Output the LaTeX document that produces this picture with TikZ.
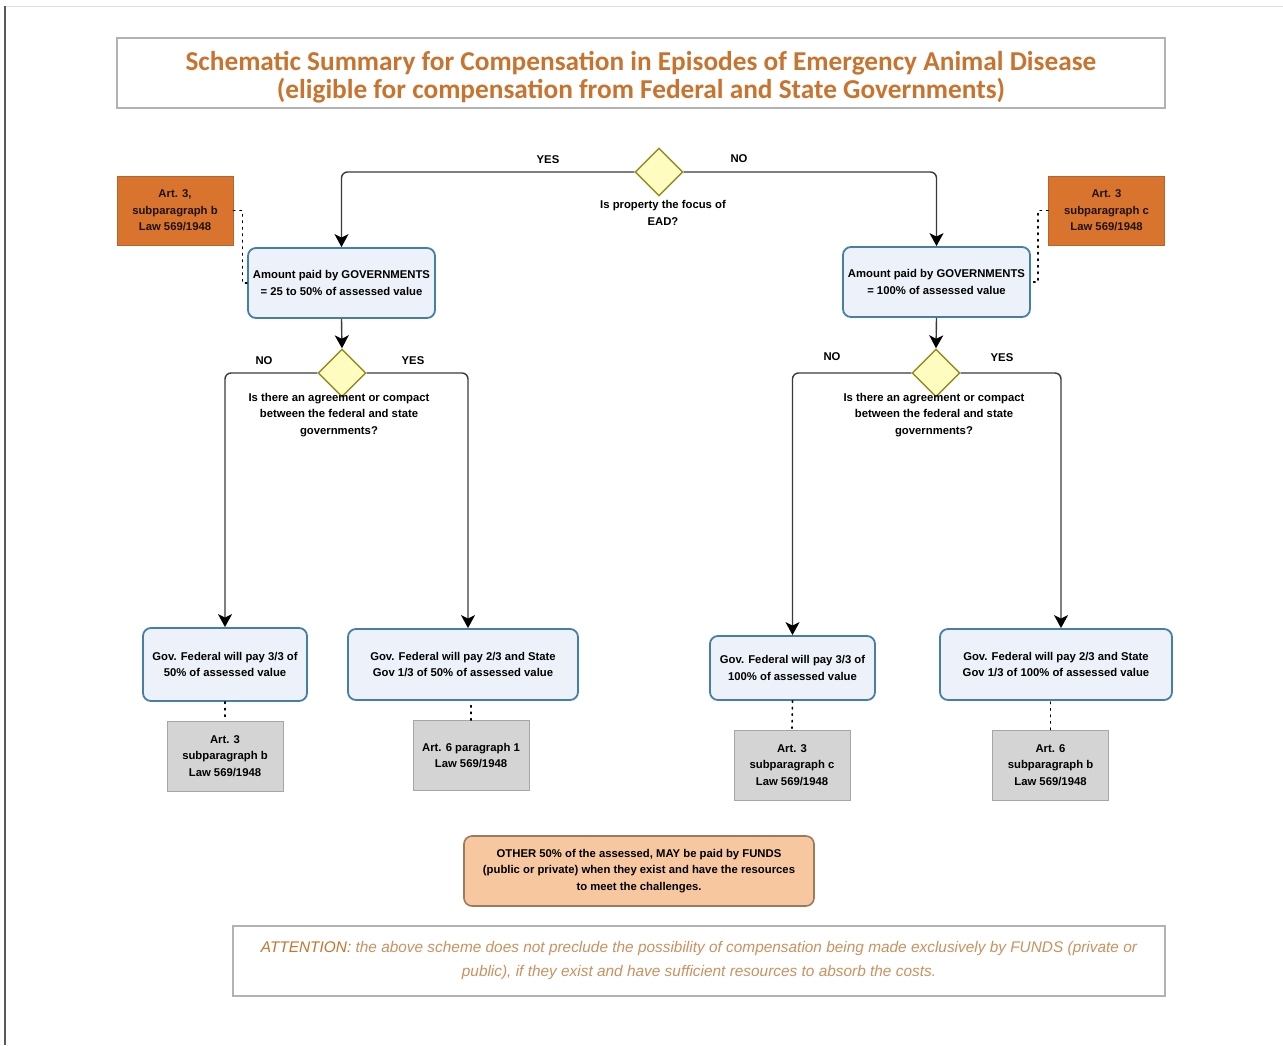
\documentclass[tikz,border=0pt]{standalone}
\usepackage{fontspec}
\setmainfont{Liberation Sans}
\newfontfamily\titlefont{Carlito}
\usepackage{xcolor}
\usetikzlibrary{arrows.meta,shapes.geometric}
\definecolor{titleorange}{HTML}{C8742F}
\definecolor{noteorange}{HTML}{C9925E}
\definecolor{boxblue}{HTML}{457FA8}
\definecolor{boxfill}{HTML}{EDF2FA}
\definecolor{laworange}{HTML}{D9742F}
\definecolor{lawgray}{HTML}{D4D4D4}
\definecolor{fundsfill}{HTML}{F7C8A0}
\definecolor{fundsline}{HTML}{9C7A5C}
\definecolor{linegray}{HTML}{3A3A3A}
\tikzset{
  flow/.style={draw=linegray, line width=1.4pt, rounded corners=6pt, -{Stealth[length=13pt,width=14pt,inset=3.5pt,color=black]}},
  ref/.style={draw=black, line width=1.6pt, dash pattern=on 1.5pt off 5pt, line cap=round}
}
\begin{document}
\begin{tikzpicture}[x=1pt, y=-1pt, thick,
    txt/.style = {align=center, font=\bfseries\fontsize{11.3}{16.5}\selectfont, inner sep=0pt},
    main/.style = {txt, draw=boxblue, fill=boxfill, rounded corners=8pt, line width=1.8pt},
    decision/.style = {diamond, aspect=1, draw=olive!70!yellow!80!black, fill=yellow!25, line width=1.4pt, minimum width=48pt, minimum height=48pt, inner sep=0pt},
    law/.style = {txt, fill=laworange, draw=laworange!85!black, text=black!85!brown, minimum width=116pt, minimum height=69pt},
    lawbox/.style = {txt, fill=lawgray, draw=gray!70, minimum width=116pt, minimum height=70pt},
    frame/.style = {draw=gray!60, line width=1.2pt, fill=white, inner sep=0pt}]
      \useasboundingbox (0,0) rectangle (1283,1045);
      \draw[gray!25, line width=1pt] (5,6) -- (1283,6);
      \draw[gray!70!black, line width=1.6pt] (5,6) -- (5,1045);

      % title
      \node[frame, minimum width=1048pt, minimum height=70pt] (1) at (641,73) {};
      \node[align=center, text=titleorange, inner sep=0pt,
        font=\titlefont\bfseries\fontsize{27.3}{28}\selectfont] (1t) at (641,77)
        {Schematic Summary for Compensation in Episodes of Emergency Animal Disease\\
         (eligible for compensation from Federal and State Governments)};

      % first question
      \node[decision] (2) at (659,172) {};
      \node[txt] (2q) at (663,213) {Is property the focus of\\EAD?};
      \node[txt] (2y) at (548,160) {YES};
      \node[txt] (2n) at (739,159) {NO};

      \node[law] (3) at (175,210.5) {Art. 3,\\subparagraph b\\Law 569/1948};
      \node[law] (4) at (1106.5,210.5) {Art. 3\\subparagraph c\\Law 569/1948};

      \node[main, minimum width=187pt, minimum height=70pt] (5) at (341.5,283)
        {Amount paid by GOVERNMENTS\\= 25 to 50\% of assessed value};
      \node[main, minimum width=187pt, minimum height=70pt] (6) at (936.5,282)
        {Amount paid by GOVERNMENTS\\= 100\% of assessed value};

      % second questions
      \node[decision] (7) at (342,373) {};
      \node[txt] (7q) at (339,415) {Is there an agreement or compact\\between the federal and state\\governments?};
      \node[txt] (7n) at (264,361) {NO};
      \node[txt] (7y) at (413,361) {YES};

      \node[decision] (8) at (936,373) {};
      \node[txt] (8q) at (934,415) {Is there an agreement or compact\\between the federal and state\\governments?};
      \node[txt] (8n) at (832,357) {NO};
      \node[txt] (8y) at (1002,358) {YES};

      % results
      \node[main, minimum width=164pt, minimum height=73pt] (9) at (225,664.5)
        {Gov. Federal will pay 3/3 of\\50\% of assessed value};
      \node[main, minimum width=230pt, minimum height=71pt] (10) at (463,664.5)
        {Gov. Federal will pay 2/3 and State\\Gov 1/3 of 50\% of assessed value};
      \node[main, minimum width=165pt, minimum height=64pt] (11) at (792.5,668)
        {Gov. Federal will pay 3/3 of\\100\% of assessed value};
      \node[main, minimum width=232pt, minimum height=71pt] (12) at (1056,664.5)
        {Gov. Federal will pay 2/3 and State\\Gov 1/3 of 100\% of assessed value};

      \node[lawbox] (13) at (225,756) {Art. 3\\subparagraph b\\Law 569/1948};
      \node[lawbox] (14) at (471,755.5) {Art. 6 paragraph 1\\Law 569/1948};
      \node[lawbox] (15) at (792,765) {Art. 3\\subparagraph c\\Law 569/1948};
      \node[lawbox] (16) at (1050.5,765) {Art. 6\\subparagraph b\\Law 569/1948};

      \node[txt, fill=fundsfill, draw=fundsline, line width=1.6pt, rounded corners=8pt,
        minimum width=350pt, minimum height=70pt] (17) at (639,871)
        {OTHER 50\% of the assessed, MAY be paid by FUNDS\\
         (public or private) when they exist and have the resources\\
         to meet the challenges.};

      \node[frame, minimum width=932pt, minimum height=70pt, align=center, text=noteorange,
        font=\itshape\fontsize{15.4}{24}\selectfont] (18) at (699,961)
        {\textcolor{titleorange}{ATTENTION:} the above scheme does not preclude the possibility of compensation being made exclusively by FUNDS (private or\\
         public), if they exist and have sufficient resources to absorb the costs.};

      \draw[flow] (2.west) -| (5.north);
      \draw[flow] (2.east) -| (6.north);
      \draw[flow] (5.south) -- (7.north);
      \draw[flow] (6.south) -- (8.north);
      \draw[flow] (7.west) -| (9.north);
      \draw[flow] (7.east) -| ([xshift=5pt]10.north);
      \draw[flow] (8.west) -| (11.north);
      \draw[flow] (8.east) -| ([xshift=5pt]12.north);

      \draw[ref] (3.east) -- ++(9,0) |- (5.west);
      \draw[ref] (4.west) -- ++(-10,0) |- (6.east);
      \draw[ref] (9.south) -- (13.north);
      \draw[ref] (14.north) -- (14.north |- 10.south);
      \draw[ref] (11.south) -- (15.north);
      \draw[ref] (16.north) -- (16.north |- 12.south);
    \end{tikzpicture}
\end{document}
